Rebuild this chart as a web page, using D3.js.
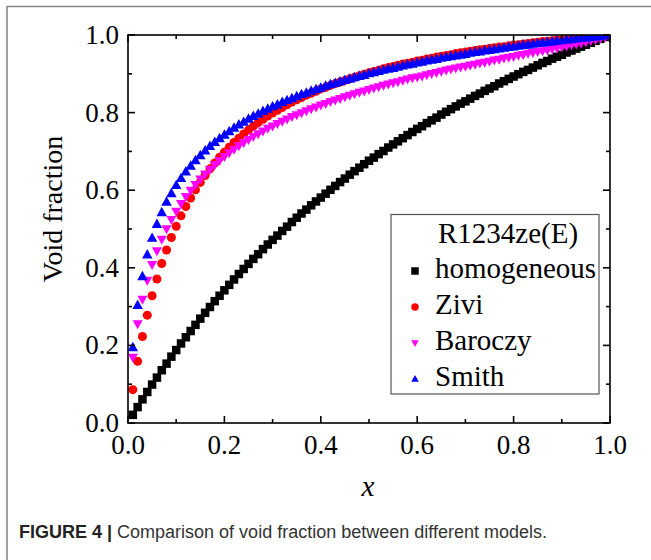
<!DOCTYPE html>
<html>
<head>
<meta charset="utf-8">
<script src="https://cdn.jsdelivr.net/npm/d3@7"></script>
<style>
  html, body { margin: 0; padding: 0; background: #fff; }
  svg { display: block; }
</style>
</head>
<body>
<div id="chart"></div>
<script>
// Vapour quality grid (x) and the four void fraction models
const qualities = [
  0.01,0.02,0.03,0.04,0.05,0.06,0.07,0.08,0.09,0.10,
  0.11,0.12,0.13,0.14,0.15,0.16,0.17,0.18,0.19,0.20,
  0.21,0.22,0.23,0.24,0.25,0.26,0.27,0.28,0.29,0.30,
  0.31,0.32,0.33,0.34,0.35,0.36,0.37,0.38,0.39,0.40,
  0.41,0.42,0.43,0.44,0.45,0.46,0.47,0.48,0.49,0.50,
  0.51,0.52,0.53,0.54,0.55,0.56,0.57,0.58,0.59,0.60,
  0.61,0.62,0.63,0.64,0.65,0.66,0.67,0.68,0.69,0.70,
  0.71,0.72,0.73,0.74,0.75,0.76,0.77,0.78,0.79,0.80,
  0.81,0.82,0.83,0.84,0.85,0.86,0.87,0.88,0.89,0.90,
  0.91,0.92,0.93,0.94,0.95,0.96,0.97,0.98,0.99,1.00
];

const homogeneous = [
  0.021,0.041,0.061,0.080,0.099,0.117,0.136,0.153,0.171,0.188,
  0.205,0.221,0.237,0.253,0.269,0.284,0.299,0.314,0.328,0.342,
  0.356,0.370,0.384,0.397,0.410,0.423,0.435,0.448,0.460,0.472,
  0.483,0.495,0.506,0.518,0.529,0.540,0.550,0.561,0.571,0.581,
  0.591,0.601,0.611,0.621,0.630,0.640,0.649,0.658,0.667,0.676,
  0.684,0.693,0.701,0.710,0.718,0.726,0.734,0.742,0.750,0.758,
  0.765,0.773,0.780,0.787,0.795,0.802,0.809,0.816,0.823,0.829,
  0.836,0.843,0.849,0.856,0.862,0.868,0.875,0.881,0.887,0.893,
  0.899,0.905,0.910,0.916,0.922,0.928,0.933,0.939,0.944,0.949,
  0.955,0.960,0.965,0.970,0.975,0.980,0.985,0.990,0.995,1.000
];

const zivi = [
  0.086,0.159,0.223,0.278,0.328,0.371,0.411,0.446,0.478,0.507,
  0.534,0.558,0.580,0.601,0.620,0.638,0.655,0.670,0.685,0.698,
  0.711,0.723,0.734,0.745,0.755,0.765,0.774,0.783,0.791,0.799,
  0.806,0.813,0.820,0.827,0.833,0.839,0.845,0.850,0.855,0.861,
  0.865,0.870,0.875,0.879,0.883,0.887,0.891,0.895,0.899,0.903,
  0.906,0.909,0.913,0.916,0.919,0.922,0.925,0.927,0.930,0.933,
  0.935,0.938,0.940,0.943,0.945,0.947,0.949,0.952,0.954,0.956,
  0.958,0.960,0.962,0.963,0.965,0.967,0.969,0.970,0.972,0.974,
  0.975,0.977,0.978,0.980,0.981,0.983,0.984,0.985,0.987,0.988,
  0.989,0.991,0.992,0.993,0.994,0.996,0.997,0.998,0.999,1.000
];

const baroczy = [
  0.169,0.255,0.318,0.367,0.408,0.443,0.473,0.500,0.524,0.545,
  0.565,0.583,0.599,0.614,0.628,0.641,0.653,0.665,0.676,0.686,
  0.696,0.705,0.714,0.722,0.730,0.738,0.745,0.752,0.759,0.765,
  0.771,0.777,0.783,0.789,0.794,0.799,0.804,0.809,0.814,0.819,
  0.823,0.828,0.832,0.836,0.840,0.844,0.848,0.852,0.855,0.859,
  0.863,0.866,0.870,0.873,0.876,0.879,0.883,0.886,0.889,0.891,
  0.894,0.897,0.900,0.903,0.906,0.909,0.912,0.914,0.917,0.919,
  0.922,0.924,0.927,0.929,0.932,0.935,0.937,0.940,0.942,0.944,
  0.947,0.949,0.952,0.954,0.957,0.959,0.961,0.964,0.966,0.969,
  0.971,0.974,0.976,0.979,0.982,0.985,0.988,0.991,0.995,1.000
];

const smith = [
  0.195,0.304,0.378,0.434,0.477,0.513,0.543,0.570,0.592,0.613,
  0.631,0.648,0.663,0.677,0.690,0.702,0.714,0.724,0.734,0.743,
  0.752,0.761,0.769,0.776,0.784,0.791,0.797,0.804,0.810,0.816,
  0.821,0.827,0.832,0.837,0.842,0.847,0.851,0.856,0.860,0.864,
  0.869,0.873,0.876,0.880,0.884,0.887,0.891,0.894,0.897,0.901,
  0.904,0.907,0.910,0.913,0.915,0.918,0.921,0.924,0.926,0.929,
  0.931,0.934,0.936,0.938,0.941,0.943,0.945,0.947,0.949,0.951,
  0.954,0.956,0.957,0.960,0.961,0.963,0.965,0.967,0.969,0.970,
  0.972,0.974,0.975,0.977,0.979,0.980,0.982,0.983,0.985,0.986,
  0.988,0.989,0.991,0.992,0.993,0.995,0.996,0.997,0.999,1.000
];

const seriesNames = ["homogeneous", "Zivi", "Baroczy", "Smith"];
const seriesColors = ["#000000", "#ff0000", "#ff00ff", "#0000ff"];
const seriesShapes = ["square", "circle", "down", "up"];
const tickLabels = ["0.0", "0.2", "0.4", "0.6", "0.8", "1.0"];

const width = 651, height = 560;
const serif = "'Liberation Serif', 'Times New Roman', serif";

const svg = d3.select("#chart").append("svg")
  .attr("width", width)
  .attr("height", height);

// Grey page frame around the figure
svg.append("path")
  .attr("d", "M7,560 L7,6.5 L651,6.5")
  .attr("fill", "none")
  .attr("stroke", "#8a8a8a")
  .attr("stroke-width", 1.6);

// Scales
const x = d3.scaleLinear().domain([0, 1]).range([128, 610]);
const y = d3.scaleLinear().domain([0, 1]).range([423, 35]);

svg.append("clipPath").attr("id", "plot-clip")
  .append("rect")
  .attr("x", x(0)).attr("y", y(1))
  .attr("width", x(1) - x(0)).attr("height", y(0) - y(1));

// Marker shapes (size s = full width)
function markerPath(shape, s) {
  const h = s / 2;
  if (shape === "square") return `M${-h},${-h}H${h}V${h}H${-h}Z`;
  if (shape === "circle") return d3.symbol(d3.symbolCircle, Math.PI * h * h)();
  if (shape === "up") return `M0,${-h * 1.05}L${h},${h * 0.75}L${-h},${h * 0.75}Z`;
  return `M0,${h * 1.05}L${h},${-h * 0.75}L${-h},${-h * 0.75}Z`;
}

// Data points
const allSeries = [homogeneous, zivi, baroczy, smith];
const plot = svg.append("g").attr("clip-path", "url(#plot-clip)");
const markerSize = [8.5, 9, 10, 10.5];

allSeries.forEach((vals, i) => {
  plot.append("g")
    .selectAll("path")
    .data(qualities.map((q, j) => [q, vals[j]]))
    .join("path")
    .attr("d", markerPath(seriesShapes[i], markerSize[i]))
    .attr("transform", d => `translate(${x(d[0])},${y(d[1])})`)
    .attr("fill", seriesColors[i]);
});

// Axes: ticks inward on all four sides
const majorTicks = [0, 0.2, 0.4, 0.6, 0.8, 1.0];
const minorTicks = [0.1, 0.3, 0.5, 0.7, 0.9];
const axisG = svg.append("g")
  .attr("stroke", "#000")
  .attr("stroke-width", 1.6)
  .attr("fill", "none");

axisG.append("rect")
  .attr("x", x(0)).attr("y", y(1))
  .attr("width", x(1) - x(0)).attr("height", y(0) - y(1));

function tickLines(vals, len) {
  vals.forEach(v => {
    const px = x(v), py = y(v);
    axisG.append("line").attr("x1", px).attr("x2", px).attr("y1", y(0)).attr("y2", y(0) - len);
    axisG.append("line").attr("x1", px).attr("x2", px).attr("y1", y(1)).attr("y2", y(1) + len);
    axisG.append("line").attr("y1", py).attr("y2", py).attr("x1", x(0)).attr("x2", x(0) + len);
    axisG.append("line").attr("y1", py).attr("y2", py).attr("x1", x(1)).attr("x2", x(1) - len);
  });
}
tickLines(majorTicks, 7);
tickLines(minorTicks, 4);

// Tick labels
svg.append("g").selectAll("text")
  .data(majorTicks)
  .join("text")
  .attr("x", d => x(d))
  .attr("y", 454)
  .attr("text-anchor", "middle")
  .attr("font-family", serif)
  .attr("font-size", 27)
  .text((d, i) => tickLabels[i]);

svg.append("g").selectAll("text")
  .data(majorTicks)
  .join("text")
  .attr("x", 119)
  .attr("y", d => y(d) + 9)
  .attr("text-anchor", "end")
  .attr("font-family", serif)
  .attr("font-size", 27)
  .text((d, i) => tickLabels[i]);

// Axis titles
svg.append("text")
  .attr("transform", "translate(62,209) rotate(-90)")
  .attr("text-anchor", "middle")
  .attr("font-family", serif)
  .attr("font-size", 28)
  .text("Void fraction");

svg.append("text")
  .attr("x", 368)
  .attr("y", 496)
  .attr("text-anchor", "middle")
  .attr("font-family", serif)
  .attr("font-style", "italic")
  .attr("font-size", 29)
  .text("x");

// Legend
const legend = svg.append("g");
legend.append("rect")
  .attr("x", 391).attr("y", 214.5)
  .attr("width", 208).attr("height", 179.5)
  .attr("fill", "#fff")
  .attr("stroke", "#555")
  .attr("stroke-width", 1.2);

legend.append("text")
  .attr("x", 508).attr("y", 243)
  .attr("text-anchor", "middle")
  .attr("font-family", serif)
  .attr("font-size", 29)
  .text("R1234ze(E)");

seriesNames.forEach((name, i) => {
  const baseY = 278 + i * 36;
  legend.append("path")
    .attr("d", markerPath(seriesShapes[i], 7.5))
    .attr("transform", `translate(415,${baseY - 7})`)
    .attr("fill", seriesColors[i]);
  legend.append("text")
    .attr("x", 435).attr("y", baseY)
    .attr("font-family", serif)
    .attr("font-size", 29)
    .text(name);
});

// Figure caption
const caption = svg.append("text")
  .attr("x", 19).attr("y", 538)
  .attr("font-family", "'Liberation Sans', Arial, sans-serif")
  .attr("font-size", 18)
  .attr("fill", "#222");
caption.append("tspan").attr("font-weight", "bold").text("FIGURE 4 | ");
caption.append("tspan").attr("fill", "#333").text("Comparison of void fraction between different models.");
</script>
</body>
</html>
